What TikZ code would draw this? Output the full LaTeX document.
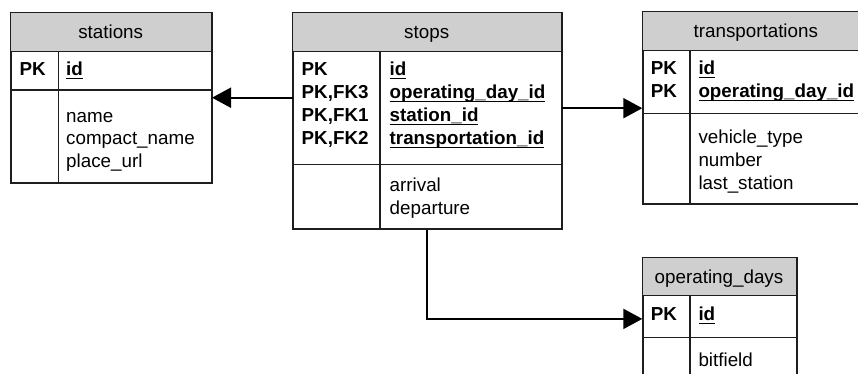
\documentclass[tikz,border=0pt]{standalone}
\usepackage{fontspec}
\setmainfont{Liberation Sans}
\usetikzlibrary{arrows.meta}
\definecolor{hdrgray}{RGB}{207,207,207}
\definecolor{edge}{RGB}{30,30,30}
\newsavebox\ulbox
% key column names: bold, underlined at a fixed depth below the baseline
\newcommand\keyname[1]{\sbox\ulbox{\bfseries #1}\rlap{\rule[-3.2pt]{\wd\ulbox}{1.4pt}}\usebox\ulbox}
\newcommand\erfont{\fontsize{18.8}{22.5}\selectfont}
\tikzset{
  tblbox/.style={draw=edge, line width=1.3pt, fill=white, inner sep=0pt, anchor=north west},
  hdr/.style={fill=hdrgray},
  sep/.style={draw=edge, line width=1.3pt},
  txt/.style={anchor=base west, inner sep=0pt, font=\erfont},
  title/.style={anchor=base, inner sep=0pt, font=\erfont},
  conn/.style={line width=2pt, -{Triangle[length=19pt,width=20pt]}},
}
\begin{document}
\begin{tikzpicture}[x=1pt,y=-1pt]
\useasboundingbox (0,0) rectangle (858,374);
\fill[white] (0,0) rectangle (858,374);

% ---- stations ----
\node[tblbox, minimum width=200pt, minimum height=169pt] (stations) at (10.7,12.7) {};
\fill[hdr] (10.7,12.7) rectangle (210.7,51.7);
\draw[sep] (10.7,51.7) -- (210.7,51.7);
\draw[sep] (10.7,90) -- (210.7,90);
\draw[sep] (58.3,51.7) -- (58.3,181.7);
\draw[edge, line width=1.3pt] (stations.north west) rectangle (stations.south east);
\node[title] (stations-t) at (110.7,38.2) {stations};
\node[txt, font=\erfont\bfseries] (stations-k1) at (19.5,76) {PK};
\node[txt] (stations-c1) at (66,76) {\keyname{id}};
\node[txt] (stations-f1) at (66,122.5) {name};
\node[txt] (stations-f2) at (66,145) {compact\_name};
\node[txt] (stations-f3) at (66,167.5) {place\_url};

% ---- stops ----
\node[tblbox, minimum width=268pt, minimum height=215.6pt] (stops) at (292.7,12.7) {};
\fill[hdr] (292.7,12.7) rectangle (560.7,51.7);
\draw[sep] (292.7,51.7) -- (560.7,51.7);
\draw[sep] (292.7,164.3) -- (560.7,164.3);
\draw[sep] (380,51.7) -- (380,228.3);
\draw[edge, line width=1.3pt] (stops.north west) rectangle (stops.south east);
\node[title] (stops-t) at (426.7,38.2) {stops};
\node[txt, font=\erfont\bfseries] (stops-k1) at (301.5,76) {PK};
\node[txt, font=\erfont\bfseries] (stops-k2) at (301.5,99) {PK,FK3};
\node[txt, font=\erfont\bfseries] (stops-k3) at (301.5,122) {PK,FK1};
\node[txt, font=\erfont\bfseries] (stops-k4) at (301.5,145) {PK,FK2};
\node[txt] (stops-c1) at (389.5,76) {\keyname{id}};
\node[txt] (stops-c2) at (389.5,99) {\keyname{operating\_day\_id}};
\node[txt] (stops-c3) at (389.5,122) {\keyname{station\_id}};
\node[txt] (stops-c4) at (389.5,145) {\keyname{transportation\_id}};
\node[txt] (stops-f1) at (389.5,191.5) {arrival};
\node[txt] (stops-f2) at (389.5,214) {departure};

% ---- transportations ----
\node[tblbox, minimum width=227pt, minimum height=191pt] (transp) at (642.3,11.7) {};
\fill[hdr] (642.3,11.7) rectangle (869.3,50.7);
\draw[sep] (642.3,50.7) -- (869.3,50.7);
\draw[sep] (642.3,113.3) -- (869.3,113.3);
\draw[sep] (690,50.7) -- (690,202.7);
\draw[edge, line width=1.3pt] (transp.north west) rectangle (transp.south east);
\node[title] (transp-t) at (755.8,37.2) {transportations};
\node[txt, font=\erfont\bfseries] (transp-k1) at (650.7,75) {PK};
\node[txt, font=\erfont\bfseries] (transp-k2) at (650.7,98) {PK};
\node[txt] (transp-c1) at (698.3,75) {\keyname{id}};
\node[txt] (transp-c2) at (698.3,98) {\keyname{operating\_day\_id}};
\node[txt] (transp-f1) at (698.3,143.3) {vehicle\_type};
\node[txt] (transp-f2) at (698.3,166.3) {number};
\node[txt] (transp-f3) at (698.3,189.3) {last\_station};

% ---- operating_days ----
\node[tblbox, minimum width=153.4pt, minimum height=140pt] (opdays) at (642.3,257.7) {};
\fill[hdr] (642.3,257.7) rectangle (795.7,295.3);
\draw[sep] (642.3,295.3) -- (795.7,295.3);
\draw[sep] (642.3,337.7) -- (795.7,337.7);
\draw[sep] (690,295.3) -- (690,397.7);
\draw[edge, line width=1.3pt] (opdays.north west) rectangle (opdays.south east);
\node[title] (opdays-t) at (719,283.2) {operating\_days};
\node[txt, font=\erfont\bfseries] (opdays-k1) at (650.7,320.7) {PK};
\node[txt] (opdays-c1) at (698.3,320.7) {\keyname{id}};
\node[txt] (opdays-f1) at (698.3,366.7) {bitfield};

% ---- relationships ----
\draw[conn] (stops.west |- 0,97.7) -- (stations.east |- 0,97.7);
\draw[conn] (stops.east |- 0,108.2) -- (transp.west |- 0,108.2);
\draw[conn] (stops.south) |- (opdays.west |- 0,318.9);
\end{tikzpicture}
\end{document}
